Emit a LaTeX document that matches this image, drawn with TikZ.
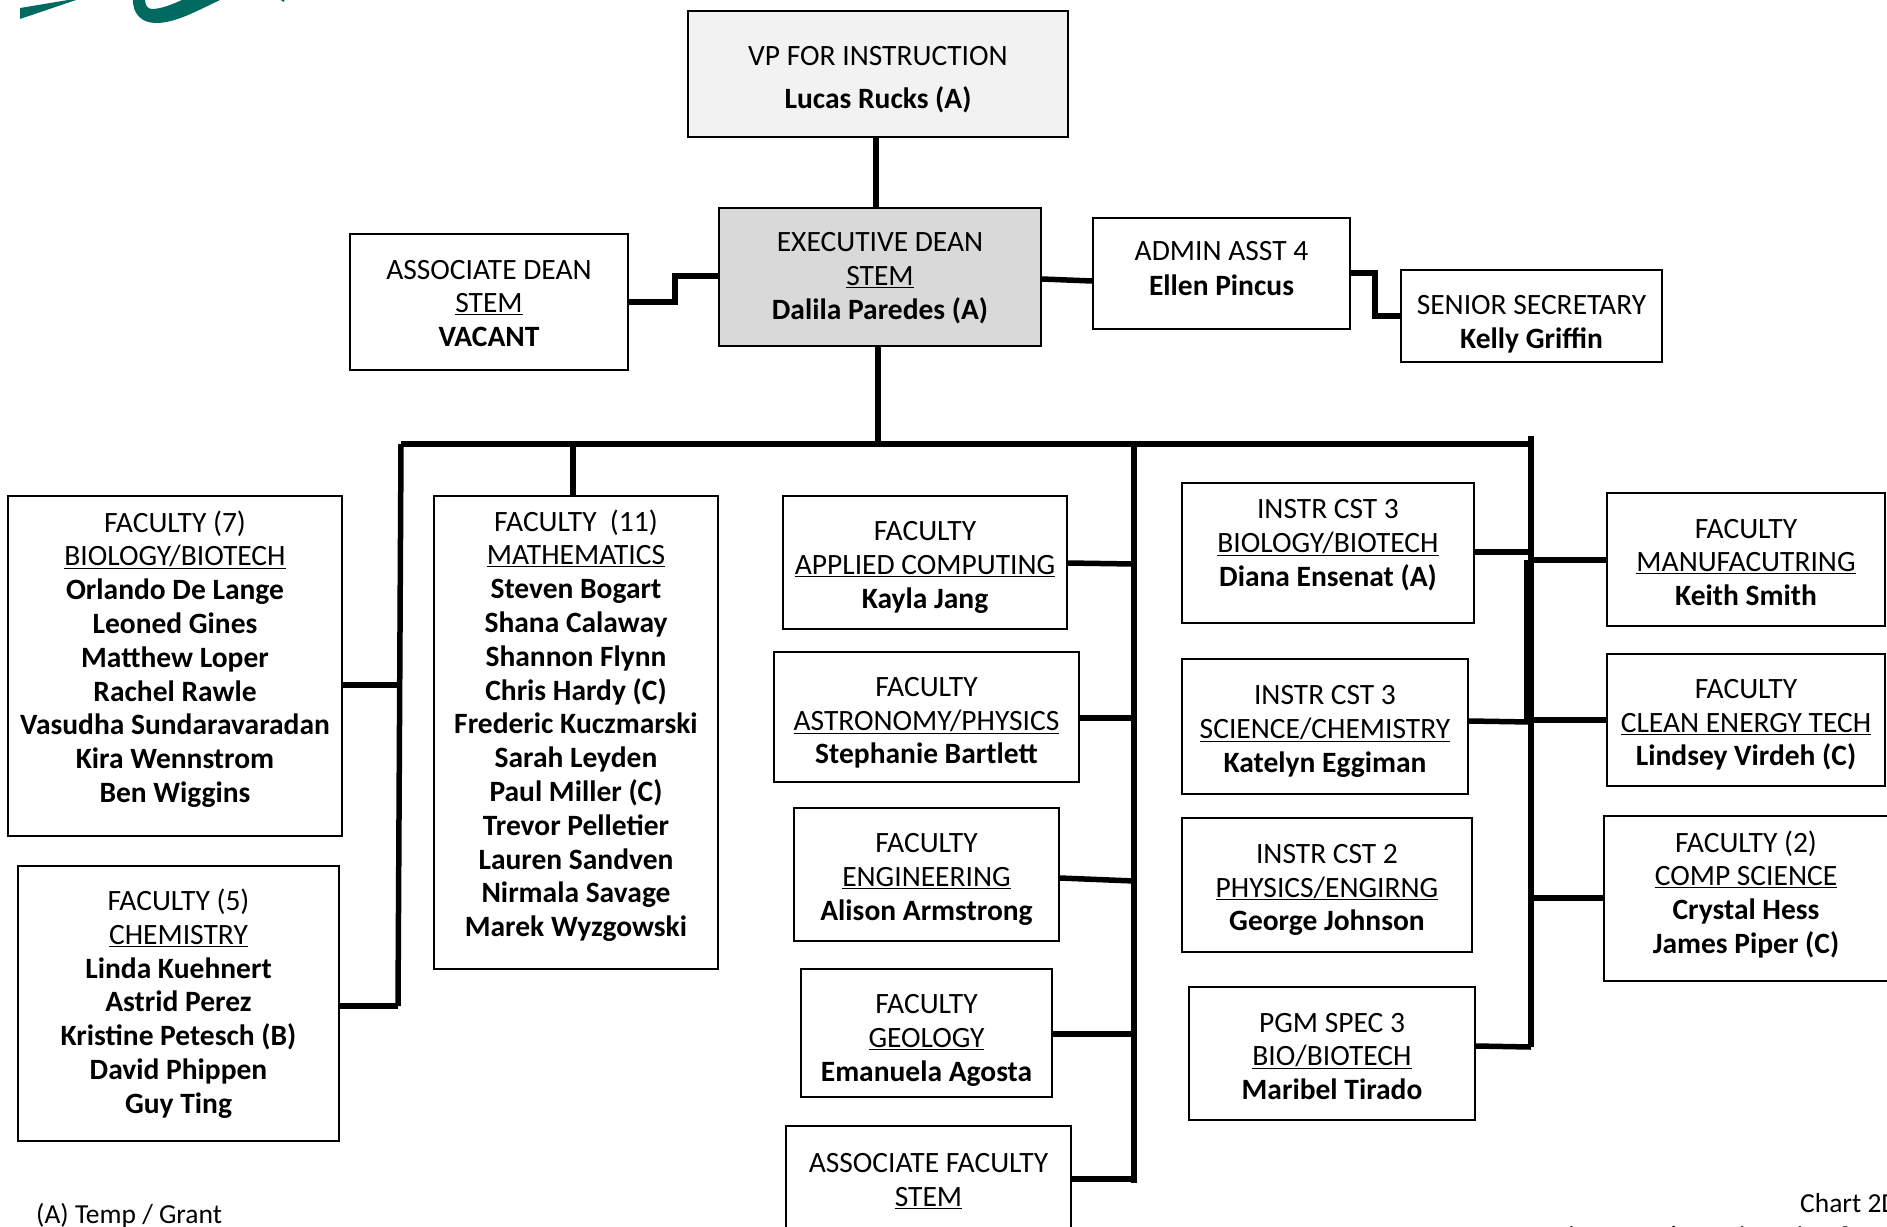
\documentclass[tikz,border=0pt]{standalone}
\usepackage{fontspec}
\setmainfont{Carlito}
\definecolor{logoteal}{HTML}{006A60}
\newcommand{\textdrop}[1]{\rule{0pt}{#1}}
\begin{document}
\begin{tikzpicture}[x=1pt,y=-1pt,
 box/.style={draw,line width=1.7pt,align=center,inner sep=0pt,font=\fontsize{29.5}{33.8}\selectfont},
 textup/.style={execute at end node={\rule[-#1]{0pt}{0pt}}},
 link/.style={line width=5.5pt},
 trunk/.style={line width=6.5pt},
 note/.style={inner sep=0pt,font=\fontsize{27.5}{33.8}\selectfont}]
 \useasboundingbox (0,0) rectangle (1887,1226);
 % logo
 \fill[logoteal](20,19)--(20,8)--(80,-2)--(76,0)--cycle;
 \fill[logoteal](133,-2) .. controls (132,14) and (142,23) .. (156,23) .. controls (175,23) and (195,12) .. (224,-2)--(186,-2) .. controls (172,5) and (160,9) .. (152,9) .. controls (147,9) and (145,5) .. (145,-2)--cycle;
 \fill[logoteal](277,-2)--(284,2)--(285,-2)--cycle;
 % top
 \node[box,fill=black!5,minimum width=380pt,minimum height=126pt] (vp) at (878,74) {\textdrop{31pt}VP FOR INSTRUCTION\\[9.5pt]\textbf{Lucas Rucks (A)}};
 \node[box,fill=black!15,minimum width=322pt,minimum height=138pt] (exec) at (880,277) {\textdrop{22pt}EXECUTIVE DEAN\\\underline{STEM}\\\textbf{Dalila Paredes (A)}};
 \node[box,minimum width=278pt,minimum height=136pt] (adean) at (489,302) {\textdrop{22pt}ASSOCIATE DEAN\\\underline{STEM}\\\textbf{VACANT}};
 \node[box,minimum width=257pt,minimum height=111pt,textup=10pt] (admin) at (1221.5,273.5) {ADMIN ASST 4\\[1pt]\textbf{Ellen Pincus}};
 \node[box,minimum width=261pt,minimum height=92pt] (senior) at (1531.5,316) {\textdrop{36pt}SENIOR SECRETARY\\\textbf{Kelly Griffin}};
 % left column
 \node[box,minimum width=334pt,minimum height=340pt,textup=19pt] (bio) at (175,666) {FACULTY (7)\\\underline{BIOLOGY/BIOTECH}\\\textbf{Orlando De Lange}\\\textbf{Leoned Gines}\\\textbf{Matthew Loper}\\\textbf{Rachel Rawle}\\\textbf{Vasudha Sundaravaradan}\\\textbf{Kira Wennstrom}\\\textbf{Ben Wiggins}};
 \node[box,minimum width=321pt,minimum height=275pt] (chem) at (178.5,1003.5) {FACULTY (5)\\\underline{CHEMISTRY}\\\textbf{Linda Kuehnert}\\\textbf{Astrid Perez}\\\textbf{Kristine Petesch (B)}\\\textbf{David Phippen}\\\textbf{Guy Ting}};
 \node[box,minimum width=284pt,minimum height=473pt,textup=19pt] (math) at (576,732.5) {FACULTY\ \ (11)\\\underline{MATHEMATICS}\\\textbf{Steven Bogart}\\\textbf{Shana Calaway}\\\textbf{Shannon Flynn}\\\textbf{Chris Hardy (C)}\\\textbf{Frederic Kuczmarski}\\\textbf{Sarah Leyden}\\\textbf{Paul Miller (C)}\\\textbf{Trevor Pelletier}\\\textbf{Lauren Sandven}\\\textbf{Nirmala Savage}\\\textbf{Marek Wyzgowski}};
 % middle column
 \node[box,minimum width=284pt,minimum height=133pt] (applied) at (925,562.5) {\textdrop{29pt}FACULTY\\\underline{APPLIED COMPUTING}\\\textbf{Kayla Jang}};
 \node[box,minimum width=305pt,minimum height=130pt] (astro) at (926.5,717) {\textdrop{31pt}FACULTY\\\underline{ASTRONOMY/PHYSICS}\\\textbf{Stephanie Bartlett}};
 \node[box,minimum width=265pt,minimum height=133pt] (eng) at (926.5,874.5) {\textdrop{29pt}FACULTY\\\underline{ENGINEERING}\\\textbf{Alison Armstrong}};
 \node[box,minimum width=251pt,minimum height=128pt] (geology) at (926.5,1033) {\textdrop{34pt}FACULTY\\\underline{GEOLOGY}\\\textbf{Emanuela Agosta}};
 \node[box,minimum width=285pt,minimum height=104pt] (afac) at (928.5,1178) {\textdrop{25pt}ASSOCIATE FACULTY\\\underline{STEM}};
 % instr column
 \node[box,minimum width=292pt,minimum height=140pt,textup=20pt] (ibio) at (1328,553) {INSTR CST 3\\\underline{BIOLOGY/BIOTECH}\\\textbf{Diana Ensenat (A)}};
 \node[box,minimum width=286pt,minimum height=135pt] (isci) at (1325,726.5) {\textdrop{29pt}INSTR CST 3\\\underline{SCIENCE/CHEMISTRY}\\\textbf{Katelyn Eggiman}};
 \node[box,minimum width=290pt,minimum height=134pt] (iphys) at (1327,885) {\textdrop{29pt}INSTR CST 2\\\underline{PHYSICS/ENGIRNG}\\\textbf{George Johnson}};
 \node[box,minimum width=286pt,minimum height=133pt] (pgm) at (1332,1053.5) {\textdrop{25pt}PGM SPEC 3\\\underline{BIO/BIOTECH}\\\textbf{Maribel Tirado}};
 % right column
 \node[box,minimum width=278pt,minimum height=133pt] (manuf) at (1746,559.5) {\textdrop{25pt}FACULTY\\\underline{MANUFACUTRING}\\\textbf{Keith Smith}};
 \node[box,minimum width=278pt,minimum height=132pt] (clean) at (1746,720) {\textdrop{29pt}FACULTY\\\underline{CLEAN ENERGY TECH}\\\textbf{Lindsey Virdeh (C)}};
 \node[box,minimum width=284pt,minimum height=165pt,textup=13pt] (comp) at (1746,898.5) {FACULTY (2)\\\underline{COMP SCIENCE}\\\textbf{Crystal Hess}\\\textbf{James Piper (C)}};
 % notes
 \node[note,anchor=west] (legend) at (36,1216) {(A) Temp / Grant};
 \node[note,anchor=west] (chart) at (1800,1203) {Chart 2D};
 \node[note,anchor=west] (title) at (1544,1238) {Science Tech, Engineering \& Math};
 % bus lines
 \coordinate (busleft) at (401,444);
 \coordinate (busmid) at (1134,444);
 \coordinate (busright) at (1531,444);
 \coordinate (leftend) at (398,1006);
 \coordinate (midend) at (1134,1183);
 \coordinate (rightend) at (1531,1047);
 \draw[link] (vp.south -| 876,0) -- (876,208);
 \draw[link] (878,346) -- (878,444);
 \draw[link] (busleft) -- (busright);
 \draw[link] (busleft) -- (leftend);
 \draw[trunk] (busmid) -- (midend);
 \draw[trunk] (1531,436) -- (rightend);
 \draw[trunk] (1527,560) -- (1527,722);
 % top side links
 \draw[link] (adean.east |- 0,302) -- (675,302) -- (675,276) -- (exec.west |- 0,276);
 \draw[link] (exec.east |- 0,279) -- (admin.west |- 0,281);
 \draw[link] (admin.east |- 0,273) -- (1375,273) -- (1375,316) -- (senior.west);
 % left links
 \draw[link] (bio.east |- 0,685) -- (398,685);
 \draw[link] (chem.east |- leftend) -- (leftend);
 \draw[link] (math.north -| 573,0) -- (573,444);
 % middle links
 \draw[link] (applied.east |- 0,563) -- (1134,564);
 \draw[link] (astro.east |- 0,718) -- (1134,718);
 \draw[link] (eng.east |- 0,878) -- (1134,881);
 \draw[link] (geology.east |- 0,1034) -- (1134,1034);
 \draw[link] (afac.east |- 0,1179) -- (1134,1179);
 % right links
 \draw[link] (ibio.east |- 0,552) -- (1531,552);
 \draw[link] (isci.east |- 0,721) -- (1531,722);
 \draw[link] (pgm.east |- 0,1046) -- (1531,1047);
 \draw[link] (1531,560) -- (manuf.west |- 0,560);
 \draw[link] (1531,720) -- (clean.west |- 0,720);
 \draw[link] (1531,898) -- (comp.west |- 0,898);
\end{tikzpicture}
\end{document}
